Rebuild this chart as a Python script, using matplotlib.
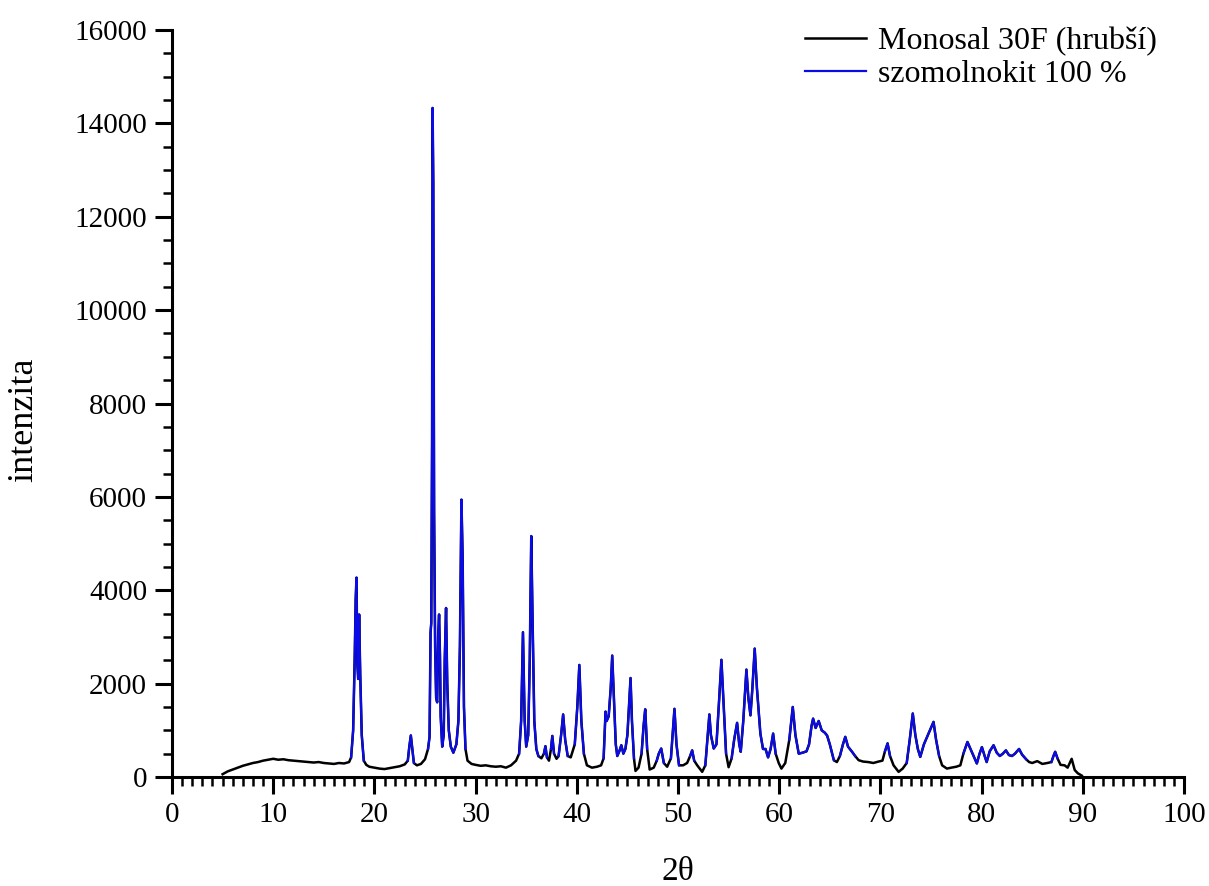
import numpy as np
import matplotlib
matplotlib.use('Agg')
import matplotlib.pyplot as plt
from matplotlib.ticker import MultipleLocator

# traced XRD pattern (2theta, intensity)
two_theta = [
    5.0, 5.5, 6.0, 6.5, 7.0, 7.5, 8.0, 8.5, 9.0, 9.5, 10.0, 10.5, 11.0, 11.5, 12.0, 12.5,
    13.0, 13.5, 14.0, 14.5, 15.0, 15.5, 16.0, 16.5, 17.0, 17.5, 17.7, 17.9, 18.05, 18.15,
    18.23, 18.32, 18.4, 18.49, 18.6, 18.75, 18.95, 19.2, 19.5, 20.0, 20.5, 21.0, 21.5, 22.0,
    22.5, 23.0, 23.3, 23.45, 23.6, 23.75, 23.9, 24.2, 24.6, 25.0, 25.3, 25.45, 25.55, 25.62,
    25.7, 25.75, 25.82, 25.85, 25.9, 26.0, 26.1, 26.2, 26.3, 26.39, 26.48, 26.55, 26.7, 26.85,
    26.95, 27.08, 27.2, 27.35, 27.55, 27.8, 28.1, 28.3, 28.45, 28.6, 28.72, 28.85, 29.0, 29.2,
    29.6, 30.0, 30.5, 31.0, 31.5, 32.0, 32.5, 33.0, 33.5, 34.0, 34.3, 34.5, 34.68, 34.85,
    35.0, 35.2, 35.35, 35.5, 35.62, 35.8, 36.0, 36.2, 36.5, 36.75, 36.9, 37.05, 37.25, 37.45,
    37.58, 37.75, 38.0, 38.2, 38.45, 38.65, 38.85, 39.1, 39.4, 39.8, 40.05, 40.25, 40.45, 40.7,
    41.0, 41.5, 42.0, 42.4, 42.65, 42.84, 42.95, 43.15, 43.35, 43.5, 43.65, 43.85, 44.0, 44.2,
    44.4, 44.6, 44.8, 45.0, 45.15, 45.31, 45.45, 45.65, 45.8, 46.1, 46.4, 46.6, 46.76, 46.95,
    47.2, 47.6, 47.9, 48.1, 48.34, 48.6, 48.93, 49.3, 49.5, 49.65, 49.85, 50.1, 50.5, 50.9,
    51.2, 51.4, 51.6, 51.9, 52.39, 52.7, 52.9, 53.1, 53.25, 53.53, 53.8, 54.05, 54.29, 54.5,
    54.75, 55.0, 55.3, 55.55, 55.84, 56.05, 56.2, 56.45, 56.76, 56.95, 57.16, 57.35, 57.58, 57.8,
    58.14, 58.4, 58.65, 58.9, 59.15, 59.4, 59.65, 59.95, 60.22, 60.6, 61.0, 61.34, 61.6, 61.93,
    62.3, 62.7, 62.95, 63.2, 63.35, 63.6, 63.9, 64.2, 64.5, 64.73, 65.0, 65.4, 65.7, 66.0,
    66.3, 66.53, 66.8, 67.2, 67.5, 67.85, 68.3, 68.8, 69.3, 69.8, 70.2, 70.45, 70.71, 70.95,
    71.3, 71.8, 72.2, 72.6, 72.9, 73.2, 73.45, 73.7, 73.94, 74.3, 74.7, 75.0, 75.25, 75.5,
    75.8, 76.1, 76.57, 77.0, 77.5, 77.9, 78.2, 78.6, 78.9, 79.2, 79.53, 79.8, 80.03, 80.3,
    80.5, 80.8, 81.18, 81.5, 81.8, 82.1, 82.4, 82.7, 83.0, 83.3, 83.7, 84.0, 84.4, 84.7,
    85.0, 85.5, 86.0, 86.5, 86.9, 87.1, 87.27, 87.5, 87.8, 88.2, 88.5, 88.9, 89.2, 89.5, 89.9,
]
intensity = [
    60, 120, 160, 200, 240, 270, 300, 320, 350, 370, 390, 370, 380, 360, 350, 340,
    330, 320, 310, 320, 300, 290, 280, 300, 290, 320, 420, 1000, 2500, 3800,
    4270, 2400, 2100, 3480, 2200, 900, 350, 260, 220, 200, 180, 170, 190, 210,
    230, 270, 350, 650, 890, 600, 300, 250, 280, 380, 600, 860, 3100, 3300,
    7200, 14330, 12700, 9900, 5700, 2800, 1700, 1600, 3000, 3480, 2600, 1300, 650, 900,
    2500, 3620, 2000, 1000, 650, 520, 700, 1200, 2800, 5940, 4700, 1500, 600, 350,
    280, 260, 240, 250, 230, 220, 230, 200, 250, 350, 500, 1200, 3100, 1200,
    650, 900, 2500, 5160, 3500, 1200, 600, 450, 400, 500, 660, 420, 350, 600,
    880, 500, 390, 450, 900, 1340, 800, 450, 420, 700, 1500, 2400, 1200, 500,
    250, 200, 220, 250, 400, 1400, 1200, 1300, 1900, 2600, 1800, 700, 450, 550,
    680, 500, 600, 900, 1500, 2120, 1200, 400, 130, 200, 500, 1100, 1450, 600,
    160, 200, 350, 500, 610, 300, 220, 400, 1000, 1460, 700, 250, 250, 300,
    450, 570, 350, 250, 110, 250, 800, 1340, 900, 610, 700, 1600, 2510, 1600,
    500, 210, 400, 800, 1160, 700, 540, 1200, 2300, 1700, 1320, 1900, 2750, 1900,
    930, 600, 600, 420, 600, 930, 500, 300, 180, 300, 800, 1500, 900, 500,
    520, 550, 700, 1100, 1250, 1050, 1200, 1000, 950, 890, 700, 360, 320, 450,
    700, 860, 650, 540, 450, 360, 330, 320, 300, 330, 350, 550, 720, 450,
    250, 110, 180, 300, 800, 1360, 900, 600, 430, 700, 900, 1050, 1180, 800,
    450, 250, 180, 200, 220, 250, 500, 750, 600, 450, 290, 500, 640, 450,
    320, 550, 680, 520, 450, 500, 570, 470, 450, 500, 600, 480, 380, 320,
    300, 340, 280, 300, 320, 450, 540, 400, 260, 250, 200, 390, 150, 80, 30,
]

# 2theta windows where the szomolnokit reference overlaps the sample
blue_windows = [
    (17.7, 19.0), (23.3, 23.9), (25.3, 29.1), (34.3, 36.2), (36.6, 37.05), (37.35, 37.8),
    (38.2, 39.1), (39.7, 40.8), (42.6, 45.7), (46.3, 47.1), (47.8, 48.6), (49.3, 50.1),
    (51.0, 51.7), (52.7, 54.8), (55.3, 59.9), (60.7, 65.4), (66.0, 67.5), (70.3, 71.2),
    (72.6, 76.0), (78.1, 84.4), (86.9, 87.7),
]

x = np.array(two_theta)
y = np.array(intensity, dtype=float)
mask = np.zeros(len(x), dtype=bool)
for lo, hi in blue_windows:
    mask |= (x >= lo) & (x <= hi)
y_blue = np.where(mask, y, np.nan)

plt.rcParams['font.family'] = ['Liberation Serif', 'DejaVu Serif']

fig = plt.figure(figsize=(12.09, 8.86), dpi=100)
ax = fig.add_axes([172 / 1209, 1 - 777 / 886, 1012 / 1209, 747 / 886])

ax.plot(x, y, color='black', lw=1.8, label='Monosal 30F (hrubší)')
ax.plot(x, y_blue, color='#0b0be6', lw=1.6, label='szomolnokit 100 %')

ax.set_xlim(0, 100)
ax.set_ylim(0, 16000)
ax.xaxis.set_major_locator(MultipleLocator(10))
ax.xaxis.set_minor_locator(MultipleLocator(1))
ax.yaxis.set_major_locator(MultipleLocator(2000))
ax.yaxis.set_minor_locator(MultipleLocator(500))

for s in ['top', 'right']:
    ax.spines[s].set_visible(False)
for s in ['left', 'bottom']:
    ax.spines[s].set_linewidth(2.2)

ax.tick_params(which='major', direction='out', length=12, width=2.2, labelsize=21)
ax.tick_params(axis='x', which='major', pad=6)
ax.tick_params(axis='y', which='major', pad=6)
ax.tick_params(which='minor', direction='out', length=6.5, width=1.8)

ax.set_xlabel('2θ', fontsize=24)
ax.set_ylabel('intenzita', fontsize=26)
ax.xaxis.set_label_coords(0.5, -0.107)
ax.yaxis.set_label_coords(-0.13, 0.478)

ax.legend(loc='upper left', bbox_to_anchor=(0.6255, 1.004), frameon=False, fontsize=23,
          handlelength=1.9, handletextpad=0.37, borderpad=0, borderaxespad=0, labelspacing=0.1)

fig.savefig('out.png', dpi=100)
